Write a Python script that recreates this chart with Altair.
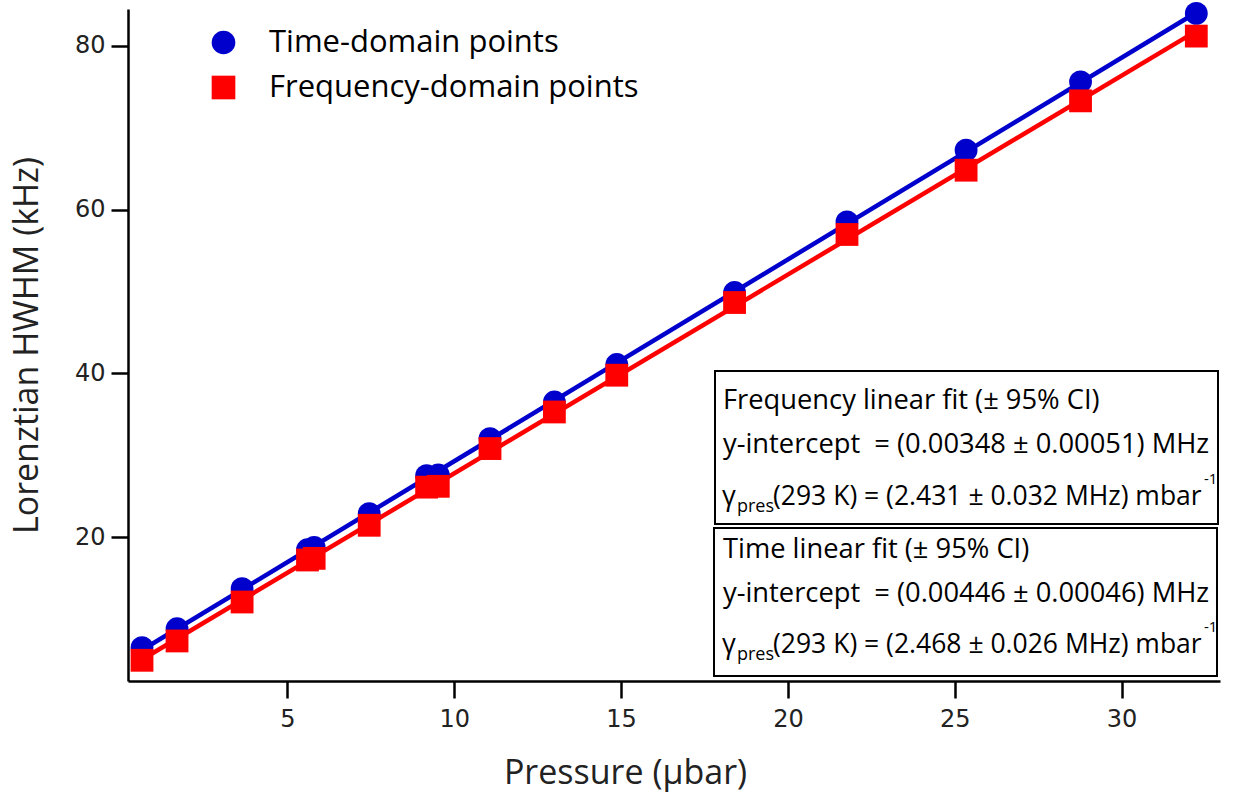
import altair as alt
import pandas as pd

# ---- data ----
pressure = [0.64, 1.69, 3.64, 5.60, 5.80, 7.45, 9.17, 9.52, 11.07, 13.00, 14.87, 18.40, 21.77, 25.34, 28.77, 32.24]
time_hwhm = [6.5, 8.8, 13.7, 18.45, 18.75, 22.87, 27.5, 27.6, 32.03, 36.5, 41.08, 49.87, 58.5, 67.26, 75.6, 83.96]
freq_hwhm = [4.95, 7.31, 12.07, 17.2, 17.4, 21.44, 26.1, 26.2, 30.81, 35.28, 39.77, 48.65, 56.96, 64.81, 73.28, 81.19]

series_names = ["Time-domain points", "Frequency-domain points"]
series_colors = ["#0000CC", "#FF0000"]
series_shapes = ["circle", "square"]

x_ticks = [5, 10, 15, 20, 25, 30]
y_ticks = [20, 40, 60, 80]
x_domain = [0.22, 32.95]
y_domain = [2.42, 84.5]

freq_box = ["Frequency linear fit (\u00b1 95% CI)",
            "y-intercept\u00a0 = (0.00348 \u00b1 0.00051) MHz",
            "(293 K) = (2.431 \u00b1 0.032 MHz) mbar"]
time_box = ["Time linear fit (\u00b1 95% CI)",
            "y-intercept\u00a0 = (0.00446 \u00b1 0.00046) MHz",
            "(293 K) = (2.468 \u00b1 0.026 MHz) mbar"]

rows = []
for p, t in zip(pressure, time_hwhm):
    rows.append({"pressure": p, "hwhm": t, "series": series_names[0]})
for p, f in zip(pressure, freq_hwhm):
    rows.append({"pressure": p, "hwhm": f, "series": series_names[1]})
df = pd.DataFrame(rows)

FONT = "Open Sans"
TICKFONT = "DejaVu Sans"
OX, OY = 128, 9  # plot origin in page pixels
W, H = 1092, 672

xs = alt.Scale(domain=x_domain, nice=False, zero=False)
ys = alt.Scale(domain=y_domain, nice=False, zero=False)

base = alt.Chart(df)

xenc = alt.X("pressure:Q", scale=xs, axis=alt.Axis(
    values=x_ticks, title="Pressure (\u00b5bar)", titleX=625 - OX, titleY=773 - OY - H,
    titleBaseline="middle", labelPadding=9))
yenc = alt.Y("hwhm:Q", scale=ys, axis=alt.Axis(values=y_ticks, title="Lorenztian HWHM (kHz)"))

lines = []
for name, col in zip(series_names, series_colors):
    lines.append(
        base.transform_filter(alt.datum.series == name)
        .transform_regression("pressure", "hwhm")
        .mark_line(color=col, strokeWidth=4.5, clip=True)
        .encode(x=alt.X("pressure:Q", scale=xs), y=alt.Y("hwhm:Q", scale=ys))
    )

points = base.mark_point(filled=True, size=520, opacity=1, strokeWidth=0).encode(
    x=xenc, y=yenc,
    color=alt.Color("series:N", scale=alt.Scale(domain=series_names, range=series_colors),
                    legend=alt.Legend(orient="none", legendX=80, legendY=18, title=None,
                                      labelFontSize=31, labelFont=FONT, labelColor="black",
                                      labelLimit=0,
                                      symbolSize=560, labelOffset=30, rowPadding=13,
                                      padding=0, symbolStrokeWidth=0)),
    shape=alt.Shape("series:N", scale=alt.Scale(domain=series_names, range=series_shapes)),
)

blank = alt.Data(values=[{"k": 0}])


def txt(s, x, y, size=27):
    return alt.Chart(blank).mark_text(
        text=s, font=FONT, fontSize=size, align="left", baseline="alphabetic", color="black"
    ).encode(x=alt.value(x - OX), y=alt.value(y - OY))


def box(x1, x2, y1, y2):
    return alt.Chart(blank).mark_rect(fill="white", stroke="black", strokeWidth=2).encode(
        x=alt.value(x1 - OX), x2=alt.value(x2 - OX), y=alt.value(y1 - OY), y2=alt.value(y2 - OY))


ann = [box(715, 1218, 371, 524), box(714, 1217, 528, 676)]
for lines_txt, (b1, b2, b3) in [(freq_box, (409, 453, 505)), (time_box, (558, 602, 653))]:
    ann.append(txt(lines_txt[0], 723, b1, size=27.3))
    ann.append(txt(lines_txt[1], 723, b2, size=27.3))
    ann.append(txt("\u03b3", 722, b3))
    ann.append(txt("pres", 737, b3 + 7, size=18))
    ann.append(txt(lines_txt[2], 773, b3, size=26.5))
    ann.append(txt("-1", 1204, b3 - 21, size=15))

chart = alt.layer(*lines, points, *ann).properties(
    width=W, height=H,
    autosize=alt.AutoSizeParams(type="none"),
    padding={"left": OX, "top": OY, "right": 1246 - OX - W, "bottom": 797 - OY - H},
    background="white",
).configure_view(stroke=None).configure_axis(
    grid=False, domainColor="black", domainWidth=2.5, tickColor="black", tickWidth=2.5,
    tickSize=17, labelFont=TICKFONT, labelFontSize=24, labelColor="#222222", labelPadding=6,
    titleFont=FONT, titleFontSize=34, titleFontWeight="normal", titleColor="#222222",
).configure_axisY(titlePadding=30)

chart.save("out.html", embed_options={"renderer": "svg", "actions": False})
